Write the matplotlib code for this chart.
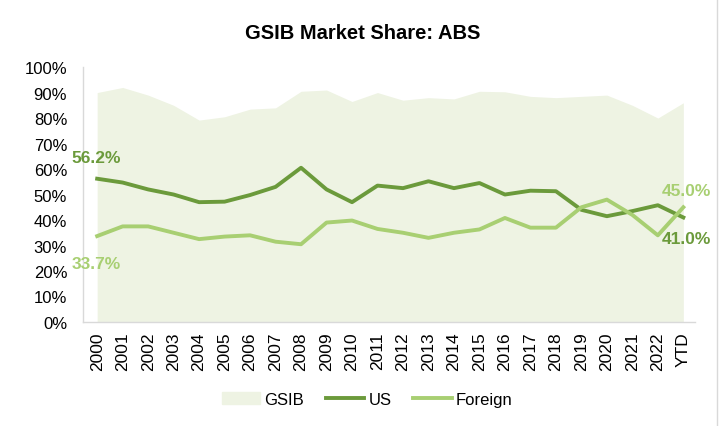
import numpy as np
import matplotlib.pyplot as plt
from matplotlib.patches import Patch
from matplotlib.lines import Line2D

plt.rcParams['font.family'] = ['Liberation Sans', 'DejaVu Sans']

lata = [str(r) for r in range(2000, 2023)] + ['YTD']
gsib = [90.0, 92.0, 89.0, 85.0, 79.2, 80.5, 83.5, 84.0, 90.5, 91.0, 86.5, 90.0,
        87.0, 88.0, 87.5, 90.5, 90.3, 88.5, 88.0, 88.5, 89.0, 85.0, 80.0, 86.0]
us = [56.2, 54.7, 52.0, 50.0, 47.0, 47.2, 49.8, 53.0, 60.5, 52.0, 47.0, 53.5,
      52.5, 55.2, 52.5, 54.5, 50.0, 51.5, 51.3, 44.0, 41.5, 43.5, 45.8, 41.0]
foreign = [33.7, 37.5, 37.5, 35.0, 32.5, 33.5, 34.0, 31.5, 30.5, 39.0, 39.8, 36.5,
           35.0, 33.0, 35.0, 36.3, 40.8, 37.0, 37.0, 45.0, 48.0, 42.0, 34.0, 45.0]

c_gsib = '#EEF3E3'
c_us = '#6B9A3B'
c_for = '#A8CF72'

fig = plt.figure(figsize=(7.23, 4.27), dpi=100)
ax = fig.add_axes([0.115, 0.2436, 0.846, 0.597])
x = np.arange(len(lata))

ax.fill_between(x, 0, gsib, color=c_gsib, lw=0)
ax.plot(x, us, color=c_us, lw=2.8)
ax.plot(x, foreign, color=c_for, lw=2.8)

ax.set_xlim(-0.55, 23.45)
ax.set_ylim(0, 100)
ax.set_yticks(np.arange(0, 101, 10))
ax.set_yticklabels([f'{v}%' for v in range(0, 101, 10)], fontsize=12)
ax.set_xticks(x)
ax.set_xticklabels(lata, rotation=90, fontsize=12.5)
ax.tick_params(axis='y', length=0, pad=11.5)
ax.tick_params(axis='x', length=0, pad=7)
for s in ['top', 'right']:
    ax.spines[s].set_visible(False)
for s in ['left', 'bottom']:
    ax.spines[s].set_color('#D9D9D9')
    ax.spines[s].set_linewidth(1)

# etykiety wartości
opis = dict(fontsize=12.5, fontweight='bold', va='center', ha='left')
ax.text(-1.0, 64.7, f'{us[0]:.1f}%', color=c_us, **opis)
ax.text(-1.0, 23.1, f'{foreign[0]:.1f}%', color=c_for, **opis)
ax.text(22.15, 51.4, f'{foreign[-1]:.1f}%', color=c_for, **opis)
ax.text(22.15, 32.9, f'{us[-1]:.1f}%', color=c_us, **opis)

fig.text(0.502, 0.922, 'GSIB Market Share: ABS', ha='center', va='center',
         fontsize=14.5, fontweight='bold')

uchwyty = [Patch(color=c_gsib, label='GSIB'),
           Line2D([], [], color=c_us, lw=2.8, label='US'),
           Line2D([], [], color=c_for, lw=2.8, label='Foreign')]
fig.legend(handles=uchwyty, loc='center', bbox_to_anchor=(0.508, 0.063), ncol=3,
           frameon=False, fontsize=12, handlelength=2.3, columnspacing=1.3,
           handletextpad=0.25)

fig.add_artist(Line2D([0.992, 0.992], [0, 1], transform=fig.transFigure,
                      color='#D9D9D9', lw=1))

fig.savefig('out.png', dpi=100)
